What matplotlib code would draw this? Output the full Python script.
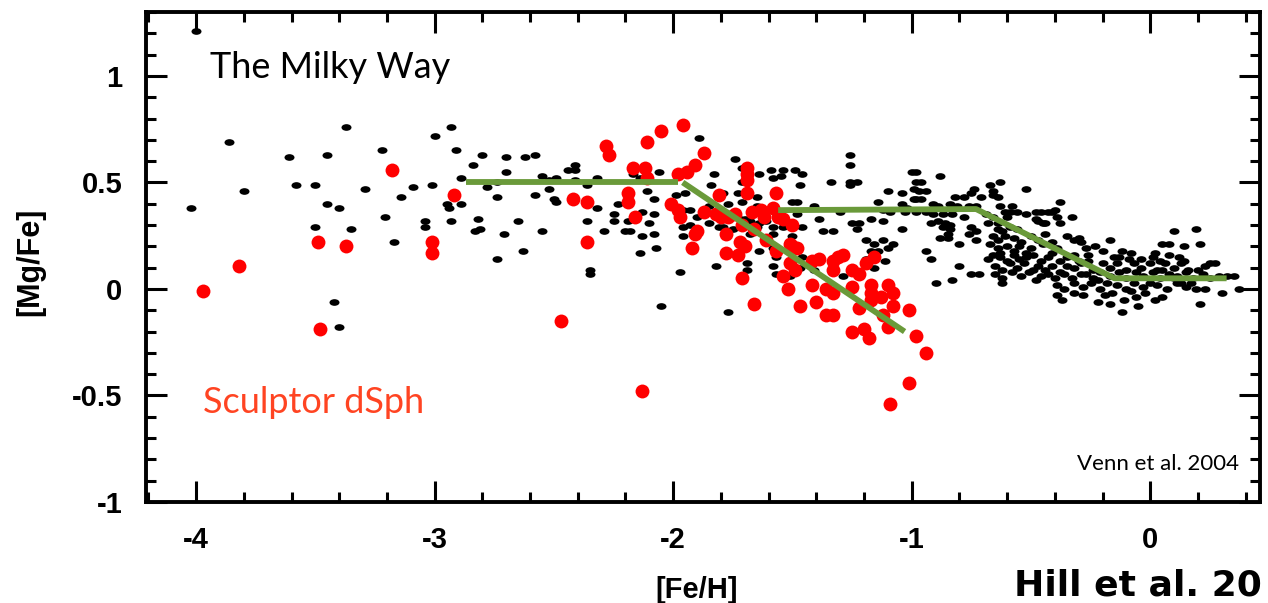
import matplotlib
matplotlib.use("Agg")
import matplotlib.pyplot as plt
from matplotlib.path import Path
from matplotlib.ticker import MultipleLocator, FixedLocator, FixedFormatter

# Milky Way stars ([Fe/H], [Mg/Fe])
mw_halo = [
	(-4.00, 1.21), (-3.37, 0.76), (-3.86, 0.69), (-3.61, 0.62), (-3.45, 0.63), (-2.93, 0.76),
	(-3.00, 0.72), (-3.22, 0.65), (-2.91, 0.65), (-2.89, 0.52), (-3.80, 0.46), (-4.02, 0.38),
	(-3.58, 0.49), (-3.50, 0.49), (-3.29, 0.47), (-3.45, 0.40), (-3.40, 0.38), (-3.14, 0.43),
	(-3.09, 0.48), (-3.01, 0.49), (-2.95, 0.40), (-2.94, 0.38), (-2.89, 0.40), (-3.21, 0.34),
	(-3.04, 0.32), (-3.04, 0.29), (-2.93, 0.32), (-3.50, 0.29), (-3.35, 0.28), (-3.17, 0.22),
	(-3.42, -0.06), (-3.40, -0.18), (-2.84, 0.58), (-2.80, 0.63), (-2.70, 0.62), (-2.62, 0.62),
	(-2.58, 0.63), (-2.70, 0.55), (-2.78, 0.48), (-2.74, 0.50), (-2.74, 0.43), (-2.82, 0.33),
	(-2.83, 0.27), (-2.81, 0.28), (-2.71, 0.26), (-2.65, 0.32), (-2.63, 0.18), (-2.74, 0.14),
	(-2.58, 0.44), (-2.55, 0.53), (-2.52, 0.47), (-2.52, 0.51), (-2.49, 0.52), (-2.50, 0.42),
	(-2.49, 0.41), (-2.55, 0.27), (-2.44, 0.56), (-2.41, 0.58), (-2.41, 0.56), (-2.41, 0.51),
	(-2.36, 0.49), (-2.32, 0.52), (-2.32, 0.38), (-2.36, 0.32), (-2.35, 0.09), (-2.35, 0.07),
	(-2.29, 0.27), (-2.25, 0.35), (-2.25, 0.32), (-2.23, 0.40), (-2.20, 0.27), (-2.18, 0.27),
	(-2.19, 0.32), (-2.17, 0.54), (-2.14, 0.52), (-2.06, 0.55), (-2.11, 0.46), (-2.08, 0.42),
	(-2.13, 0.36), (-2.08, 0.35), (-2.10, 0.31), (-2.13, 0.25), (-2.08, 0.26), (-2.14, 0.17),
	(-2.07, 0.19), (-2.05, -0.08),
]

mw_thick = [
	(-1.97, 0.08), (-1.99, 0.44), (-1.95, 0.45), (-1.96, 0.37), (-1.93, 0.37), (-1.90, 0.34),
	(-1.96, 0.29), (-1.93, 0.30), (-1.96, 0.25), (-1.89, 0.71), (-1.74, 0.61), (-1.71, 0.57),
	(-1.83, 0.54), (-1.71, 0.50), (-1.84, 0.49), (-1.64, 0.54), (-1.59, 0.56), (-1.54, 0.56),
	(-1.49, 0.56), (-1.58, 0.52), (-1.55, 0.53), (-1.46, 0.54), (-1.47, 0.49), (-1.34, 0.50),
	(-1.26, 0.63), (-1.26, 0.58), (-1.26, 0.50), (-1.26, 0.49), (-1.23, 0.50), (-1.00, 0.55),
	(-0.98, 0.55), (-0.98, 0.50), (-0.97, 0.46), (-1.10, 0.46), (-1.04, 0.45), (-0.99, 0.42),
	(-1.79, 0.45), (-1.73, 0.45), (-1.77, 0.40), (-1.71, 0.41), (-1.65, 0.43), (-1.85, 0.39),
	(-1.85, 0.31), (-1.81, 0.29), (-1.75, 0.28), (-1.79, 0.29), (-1.72, 0.33), (-1.70, 0.33),
	(-1.68, 0.32), (-1.65, 0.39), (-1.64, 0.31), (-1.61, 0.32), (-1.65, 0.29), (-1.58, 0.29),
	(-1.58, 0.26), (-1.68, 0.26), (-1.54, 0.29), (-1.50, 0.41), (-1.48, 0.41), (-1.48, 0.35),
	(-1.46, 0.29), (-1.50, 0.25), (-1.41, 0.39), (-1.39, 0.33), (-1.37, 0.27), (-1.33, 0.27),
	(-1.30, 0.36), (-1.25, 0.31), (-1.22, 0.31), (-1.23, 0.28), (-1.17, 0.33), (-1.14, 0.41),
	(-1.12, 0.37), (-1.12, 0.32), (-1.09, 0.36), (-1.04, 0.28), (-1.04, 0.40), (-1.03, 0.36),
	(-1.19, 0.23), (-1.16, 0.21), (-1.17, 0.18), (-1.14, 0.18), (-1.12, 0.23), (-1.08, 0.21),
	(-1.10, 0.19), (-1.58, 0.19), (-1.57, 0.15), (-1.58, 0.11), (-1.57, 0.07), (-1.69, 0.12),
	(-1.69, 0.09), (-1.82, 0.11), (-1.64, 0.18), (-1.51, 0.06), (-1.47, 0.10), (-1.46, 0.15),
	(-1.41, 0.09), (-1.29, 0.06), (-1.77, -0.11), (-1.19, 0.14), (-1.16, 0.10), (-1.11, 0.13),
	(-1.02, 0.38), (-0.88, 0.53), (-0.96, 0.50), (-0.99, 0.47), (-0.94, 0.46), (-0.98, 0.42),
	(-0.96, 0.42), (-0.91, 0.40), (-0.89, 0.39), (-0.84, 0.40), (-0.82, 0.43), (-0.81, 0.39),
	(-0.78, 0.43), (-0.75, 0.45), (-0.74, 0.47), (-0.71, 0.43), (-0.76, 0.39), (-0.73, 0.39),
	(-0.98, 0.36), (-0.94, 0.36), (-0.91, 0.35), (-0.87, 0.35), (-0.83, 0.35), (-0.89, 0.32),
	(-0.86, 0.31), (-0.84, 0.30), (-0.87, 0.29), (-0.92, 0.31), (-0.78, 0.34), (-0.84, 0.28),
	(-0.85, 0.26), (-0.75, 0.29), (-0.76, 0.26), (-0.73, 0.27), (-0.88, 0.24), (-0.85, 0.24),
	(-0.73, 0.23), (-0.80, 0.21), (-0.94, 0.18), (-0.92, 0.14), (-0.80, 0.11), (-0.90, 0.03),
	(-0.83, 0.04), (-0.75, 0.07), (-0.72, 0.07),
]

mw_disk = [
	(-0.67, 0.49), (-0.63, 0.50), (-0.66, 0.44), (-0.64, 0.43), (-0.66, 0.46), (-0.52, 0.47),
	(-0.63, 0.39), (-0.58, 0.39), (-0.59, 0.36), (-0.69, 0.35), (-0.68, 0.31), (-0.66, 0.34),
	(-0.64, 0.31), (-0.61, 0.36), (-0.60, 0.34), (-0.56, 0.36), (-0.52, 0.35), (-0.48, 0.36),
	(-0.46, 0.36), (-0.43, 0.36), (-0.40, 0.37), (-0.38, 0.41), (-0.41, 0.36), (-0.39, 0.34),
	(-0.48, 0.33), (-0.47, 0.32), (-0.45, 0.31), (-0.44, 0.31), (-0.33, 0.34), (-0.38, 0.31),
	(-0.64, 0.28), (-0.62, 0.27), (-0.59, 0.29), (-0.56, 0.28), (-0.66, 0.25), (-0.64, 0.23),
	(-0.61, 0.25), (-0.57, 0.24), (-0.54, 0.22), (-0.50, 0.25), (-0.47, 0.23), (-0.45, 0.21),
	(-0.35, 0.25), (-0.32, 0.23), (-0.30, 0.24), (-0.41, 0.22), (-0.39, 0.19), (-0.67, 0.21),
	(-0.64, 0.19), (-0.63, 0.17), (-0.60, 0.20), (-0.57, 0.18), (-0.55, 0.20), (-0.52, 0.17),
	(-0.68, 0.14), (-0.66, 0.16), (-0.63, 0.15), (-0.60, 0.13), (-0.57, 0.16), (-0.55, 0.14),
	(-0.52, 0.15), (-0.49, 0.16), (-0.46, 0.13), (-0.43, 0.15), (-0.41, 0.17), (-0.38, 0.13),
	(-0.35, 0.15), (-0.32, 0.16), (-0.30, 0.13), (-0.65, 0.11), (-0.62, 0.09), (-0.59, 0.12),
	(-0.56, 0.10), (-0.53, 0.12), (-0.49, 0.09), (-0.47, 0.11), (-0.44, 0.09), (-0.41, 0.11),
	(-0.38, 0.08), (-0.35, 0.11), (-0.32, 0.10), (-0.29, 0.12), (-0.65, 0.07), (-0.62, 0.05),
	(-0.54, 0.06), (-0.51, 0.08), (-0.46, 0.06), (-0.43, 0.07), (-0.40, 0.05), (-0.36, 0.07),
	(-0.33, 0.05), (-0.29, 0.07), (-0.62, 0.03), (-0.39, 0.02), (-0.36, 0.00), (-0.32, 0.03),
	(-0.39, -0.03), (-0.37, -0.05), (-0.32, -0.02), (-0.29, 0.22), (-0.27, 0.19), (-0.23, 0.20),
	(-0.20, 0.18), (-0.17, 0.23), (-0.12, 0.18), (-0.08, 0.17), (-0.13, 0.15), (-0.04, 0.14),
	(0.01, 0.15), (0.02, 0.17), (0.05, 0.21), (0.08, 0.21), (0.10, 0.27), (0.14, 0.20),
	(0.19, 0.28), (0.21, 0.21), (0.08, 0.16), (0.12, 0.15), (0.14, 0.13), (0.23, 0.11),
	(0.25, 0.12), (0.20, 0.09), (0.27, 0.12), (-0.26, 0.13), (-0.24, 0.09), (-0.20, 0.12),
	(-0.17, 0.10), (-0.14, 0.12), (-0.10, 0.09), (-0.07, 0.12), (-0.04, 0.10), (0.00, 0.12),
	(0.03, 0.09), (0.06, 0.12), (0.10, 0.10), (0.13, 0.12), (0.16, 0.09), (-0.27, 0.07),
	(-0.24, 0.05), (-0.21, 0.08), (-0.17, 0.06), (-0.13, 0.08), (-0.10, 0.05), (-0.06, 0.08),
	(-0.03, 0.06), (0.01, 0.08), (0.04, 0.05), (0.08, 0.07), (0.11, 0.06), (0.15, 0.08),
	(0.18, 0.05), (0.22, 0.07), (0.25, 0.05), (0.29, 0.06), (0.32, 0.06), (0.35, 0.06),
	(-0.28, 0.01), (-0.25, 0.03), (-0.21, 0.00), (-0.18, 0.03), (-0.14, 0.02), (-0.10, 0.00),
	(-0.07, 0.03), (-0.03, 0.01), (0.00, 0.03), (0.03, 0.02), (0.07, 0.00), (0.11, 0.03),
	(0.15, 0.01), (0.19, 0.00), (0.23, 0.00), (0.30, -0.02), (0.37, 0.00), (0.10, 0.05),
	(0.13, 0.03), (-0.28, -0.03), (-0.22, -0.06), (-0.19, -0.03), (-0.16, -0.02), (-0.11, -0.05),
	(-0.06, -0.04), (-0.02, -0.02), (0.02, -0.05), (0.05, -0.04), (-0.17, -0.07), (-0.12, -0.11),
	(-0.05, -0.08), (0.21, -0.07), (-0.50, 0.19), (-0.44, 0.26), (-0.58, 0.08), (-0.48, 0.04),
	(-0.26, 0.16), (-0.15, 0.15), (-0.09, 0.14), (0.04, 0.13), (-0.22, 0.04), (-0.08, -0.01),
	(0.17, 0.03), (0.05, 0.09),
]

# Sculptor dSph stars
scl = [
	(-3.18, 0.56), (-2.92, 0.44), (-3.49, 0.22), (-3.37, 0.20), (-3.01, 0.22), (-3.01, 0.17),
	(-3.82, 0.11), (-3.97, -0.01), (-3.48, -0.19), (-2.28, 0.67), (-2.27, 0.63), (-2.11, 0.69),
	(-2.05, 0.74), (-1.96, 0.77), (-2.17, 0.57), (-2.12, 0.57), (-2.11, 0.52), (-1.98, 0.54),
	(-1.94, 0.55), (-1.91, 0.58), (-2.42, 0.42), (-2.36, 0.41), (-2.36, 0.22), (-2.19, 0.45),
	(-2.19, 0.41), (-2.16, 0.34), (-2.01, 0.40), (-1.98, 0.37), (-1.97, 0.34), (-1.91, 0.26),
	(-1.92, 0.19), (-2.47, -0.15), (-2.13, -0.48), (-1.87, 0.64), (-1.69, 0.57), (-1.69, 0.54),
	(-1.69, 0.51), (-1.69, 0.45), (-1.57, 0.45), (-1.81, 0.44), (-1.87, 0.36), (-1.82, 0.35),
	(-1.80, 0.34), (-1.77, 0.34), (-1.74, 0.35), (-1.71, 0.30), (-1.67, 0.36), (-1.63, 0.37),
	(-1.62, 0.34), (-1.58, 0.38), (-1.56, 0.34), (-1.54, 0.33), (-1.50, 0.30), (-1.66, 0.28),
	(-1.90, 0.27), (-1.78, 0.26), (-1.61, 0.23), (-1.72, 0.22), (-1.70, 0.20), (-1.78, 0.17),
	(-1.73, 0.16), (-1.57, 0.18), (-1.51, 0.21), (-1.50, 0.20), (-1.48, 0.19), (-1.51, 0.12),
	(-1.49, 0.09), (-1.54, 0.06), (-1.71, 0.05), (-1.42, 0.13), (-1.39, 0.14), (-1.33, 0.13),
	(-1.33, 0.09), (-1.31, 0.15), (-1.29, 0.16), (-1.25, 0.09), (-1.22, 0.07), (-1.19, 0.12),
	(-1.16, 0.15), (-1.52, 0.00), (-1.42, 0.02), (-1.36, 0.00), (-1.33, -0.02), (-1.25, 0.01),
	(-1.17, 0.02), (-1.17, -0.02), (-1.17, -0.05), (-1.13, -0.04), (-1.10, 0.02), (-1.08, -0.02),
	(-1.08, -0.08), (-1.66, -0.07), (-1.47, -0.08), (-1.40, -0.06), (-1.36, -0.12), (-1.33, -0.12),
	(-1.22, -0.09), (-1.12, -0.12), (-1.01, -0.10), (-1.25, -0.20), (-1.20, -0.19), (-1.18, -0.23),
	(-1.10, -0.18), (-0.98, -0.22), (-0.94, -0.30), (-1.01, -0.44), (-1.09, -0.54),
]

# green trend lines
plateau_feh = [-2.87, -1.98]
plateau_mgfe = [0.50, 0.50]
scl_trend_feh = [-1.96, -1.03]
scl_trend_mgfe = [0.50, -0.20]
mw_trend_feh = [-1.56, -0.73, -0.15, 0.32]
mw_trend_mgfe = [0.37, 0.375, 0.05, 0.05]

x_ticks = [-4, -3, -2, -1, 0]
x_labels = ["-4", "-3", "-2", "-1", "0"]
y_ticks = [-1, -0.5, 0, 0.5, 1]
y_labels = ["-1", "-0.5", "0", "0.5", "1"]

plt.rcParams["axes.unicode_minus"] = False

W, H = 1268, 603
fig = plt.figure(figsize=(W / 100, H / 100), dpi=100)
ax = fig.add_axes([146 / W, 1 - 502 / H, (1260 - 146) / W, (502 - 12) / H])

# small black dots are slightly flattened ellipses
circ = Path.unit_circle()
dot = Path(circ.vertices * [1.5, 1.0], circ.codes)

mw = mw_halo + mw_thick + mw_disk
ax.scatter([p[0] for p in mw], [p[1] for p in mw], marker=dot, s=52,
		   color="black", linewidths=0, zorder=2)
ax.scatter([p[0] for p in scl], [p[1] for p in scl], marker="o", s=100,
		   color="#ff0000", linewidths=0, zorder=3)

green = "#6a9a3a"
for xs, ys in [(plateau_feh, plateau_mgfe), (scl_trend_feh, scl_trend_mgfe),
			   (mw_trend_feh, mw_trend_mgfe)]:
	ax.plot(xs, ys, color=green, lw=4.2, solid_capstyle="butt", zorder=4)

ax.set_xlim(-4.21, 0.46)
ax.set_ylim(-1, 1.3)

ax.xaxis.set_major_locator(FixedLocator(x_ticks))
ax.xaxis.set_major_formatter(FixedFormatter(x_labels))
ax.yaxis.set_major_locator(FixedLocator(y_ticks))
ax.yaxis.set_major_formatter(FixedFormatter(y_labels))
ax.xaxis.set_minor_locator(MultipleLocator(0.2))
ax.yaxis.set_minor_locator(MultipleLocator(0.1))

for sp in ax.spines.values():
	sp.set_linewidth(2.8)
ax.tick_params(which="both", direction="in", top=True, right=True, width=2.2)
ax.tick_params(which="major", length=15, labelsize=21, pad=17)
ax.tick_params(which="minor", length=7.5)
for lab in ax.get_xticklabels() + ax.get_yticklabels():
	lab.set_fontfamily("Liberation Sans")
	lab.set_fontweight("bold")

fig.text(30 / W, 1 - 262 / H, "[Mg/Fe]", rotation=90, ha="center", va="center",
		 fontsize=22, fontweight="bold", family="Liberation Sans")
fig.text(697 / W, 1 - 590 / H, "[Fe/H]", ha="center", va="center",
		 fontsize=21, fontweight="bold", family="Liberation Sans")

fig.text(210 / W, 1 - 78 / H, "The Milky Way", ha="left", va="baseline",
		 fontsize=26, family="Lato", color="black")
fig.text(203 / W, 1 - 413 / H, "Sculptor dSph", ha="left", va="baseline",
		 fontsize=26, family="Lato", color="#ff4422")
fig.text(1239 / W, 1 - 470 / H, "Venn et al. 2004", ha="right", va="baseline",
		 fontsize=16, family="Lato", color="black")
fig.text(1014 / W, 1 - 595 / H, "Hill et al. 20", ha="left", va="baseline",
		 fontsize=26, fontweight="bold", family="DejaVu Sans", color="black")

fig.savefig("out.png", dpi=100)
